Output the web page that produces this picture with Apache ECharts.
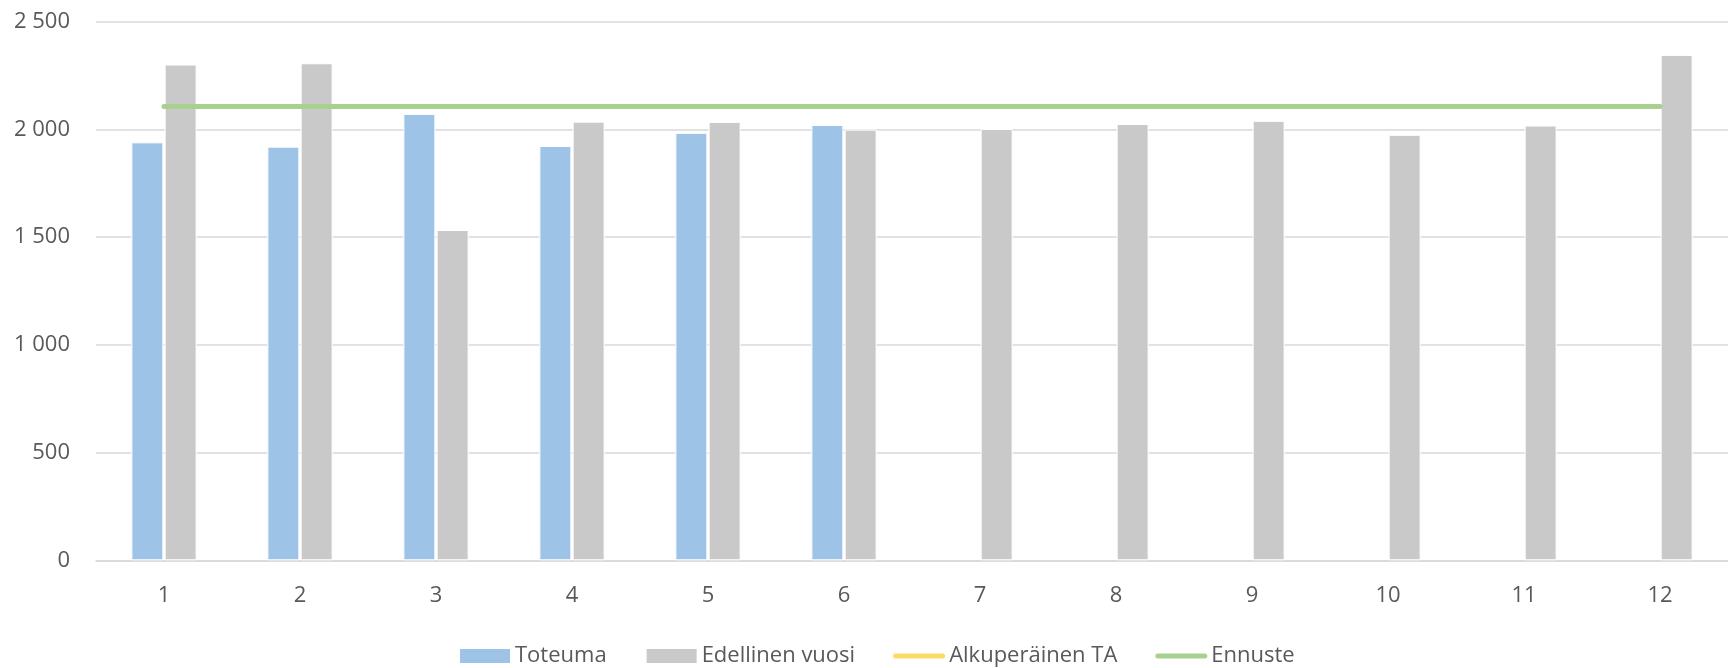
<!DOCTYPE html>
<html>
<head>
<meta charset="utf-8">
<script src="https://cdn.jsdelivr.net/npm/echarts@6/dist/echarts.min.js"></script>
<style>
html,body{margin:0;padding:0;background:#fff;}
#chart{width:1728px;height:668px;}
</style>
</head>
<body>
<div id="chart"></div>
<script>
var categories = ['1','2','3','4','5','6','7','8','9','10','11','12'];
var toteuma = [1940, 1920, 2072, 1923, 1984, 2021, null, null, null, null, null, null];
var edellinenVuosi = [2301, 2307, 1533, 2036, 2035, 1999, 2002, 2025, 2040, 1975, 2018, 2346];
var alkuperainenTA = [null, null, null, null, null, null, null, null, null, null, null, null];
var ennuste = [2106, 2106, 2106, 2106, 2106, 2106, 2106, 2106, 2106, 2106, 2106, 2106];
var yTicks = [0, 500, 1000, 1500, 2000, 2500];

var FONT = '"Open Sans", "Noto Sans", sans-serif';
var TXT = '#595959';
var LINE_ICON = 'path://M0,0 L0,0 M52,16 L52,16 M2.5,5.5 L49.5,5.5 A2.5,2.5 0 0 1 49.5,10.5 L2.5,10.5 A2.5,2.5 0 0 1 2.5,5.5 Z';

function fmt(v){
  var s = String(v);
  return s.replace(/\B(?=(\d{3})+(?!\d))/g, ' ');
}

var chart = echarts.init(document.getElementById('chart'), null, {renderer:'canvas'});
chart.setOption({
  animation: false,
  backgroundColor: '#ffffff',
  textStyle: {fontFamily: FONT},
  grid: {left: 96, right: 0, top: 21.7, bottom: 107.7, containLabel: false},
  legend: {
    left: 453, top: 640,
    itemWidth: 52, itemHeight: 16, itemGap: 38,
    textStyle: {fontFamily: FONT, fontSize: 22, color: TXT, padding: [0,0,0,-1]},
    data: [
      {name: 'Toteuma', icon: 'rect'},
      {name: 'Edellinen vuosi', icon: 'rect'},
      {name: 'Alkuperäinen TA', icon: LINE_ICON, itemStyle: {color: '#FFD966'}},
      {name: 'Ennuste', icon: LINE_ICON, itemStyle: {color: '#A9D18E'}}
    ]
  },
  xAxis: {
    type: 'category',
    data: categories,
    axisTick: {show: false},
    axisLine: {show: true, lineStyle: {color: '#D9D9D9', width: 1.5}},
    axisLabel: {color: TXT, fontSize: 22, fontFamily: FONT, margin: 24}
  },
  yAxis: {
    type: 'value',
    min: yTicks[0], max: yTicks[yTicks.length-1], interval: 500,
    axisLine: {show: false},
    axisTick: {show: false},
    splitLine: {lineStyle: {color: '#D9D9D9', width: 1.5}},
    axisLabel: {color: TXT, fontSize: 22, fontFamily: FONT, margin: 26, formatter: fmt}
  },
  series: [
    {
      name: 'Toteuma', type: 'bar', data: toteuma,
      barWidth: 32, barGap: '4%',
      itemStyle: {color: '#9DC3E6', borderColor: '#ffffff', borderWidth: 1}
    },
    {
      name: 'Edellinen vuosi', type: 'bar', data: edellinenVuosi,
      barWidth: 32, barGap: '4%',
      itemStyle: {color: '#C9C9C9', borderColor: '#ffffff', borderWidth: 1}
    },
    {
      name: 'Alkuperäinen TA', type: 'line', data: alkuperainenTA,
      symbol: 'none', showSymbol: false,
      itemStyle: {color: '#FFD966'},
      lineStyle: {color: '#FFD966', width: 5, cap: 'round'}
    },
    {
      name: 'Ennuste', type: 'line', data: ennuste,
      symbol: 'none', showSymbol: false, z: 5,
      itemStyle: {color: '#A9D18E'},
      lineStyle: {color: '#A9D18E', width: 5, cap: 'round'}
    }
  ]
});
</script>
</body>
</html>
